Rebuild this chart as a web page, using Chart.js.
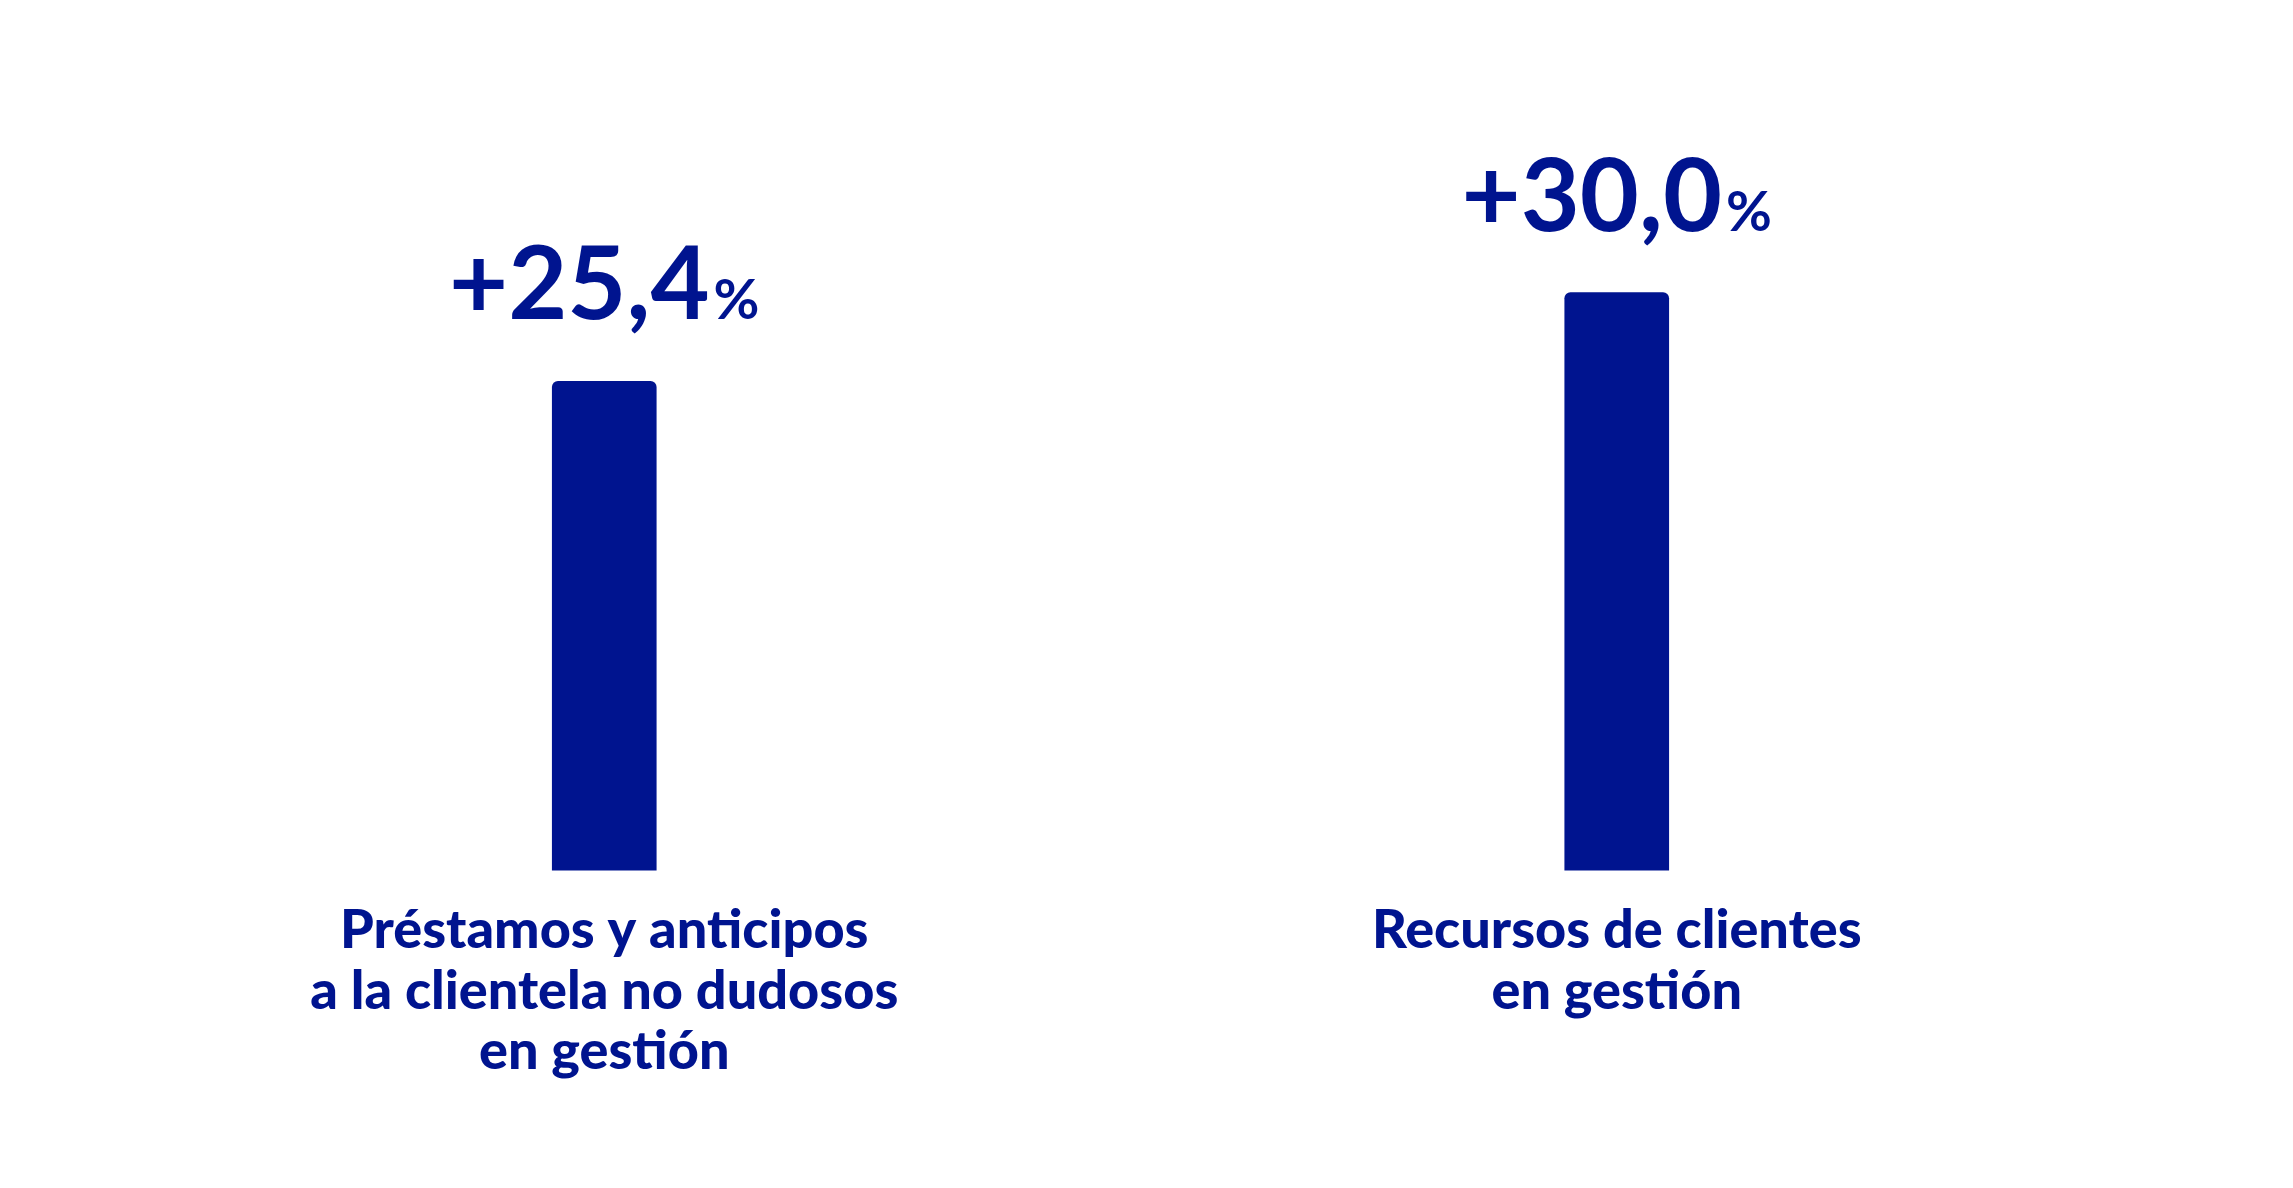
<!DOCTYPE html>
<html>
<head>
<meta charset="utf-8">
<script src="https://cdn.jsdelivr.net/npm/chart.js@4"></script>
<style>
	html, body { margin: 0; padding: 0; background: #fff; }
	#wrap { width: 2293px; height: 1188px; }
</style>
</head>
<body>
<div id="wrap"><canvas id="chart"></canvas></div>
<script>
const categories = [
	['Préstamos y anticipos', 'a la clientela no dudosos', 'en gestión'],
	['Recursos de clientes', 'en gestión'],
];
const growth = [25.4, 30.0];
const growthLabels = ['+25,4', '+30,0'];

const blue = '#00148f';

const valueLabels = {
	id: 'valueLabels',
	afterDatasetsDraw(chart) {
		const ctx = chart.ctx;
		const meta = chart.getDatasetMeta(0);
		meta.data.forEach((bar, i) => {
			const big = '700 102px Lato, "Open Sans", sans-serif';
			const small = '700 56px Lato, "Open Sans", sans-serif';
			ctx.save();
			ctx.fillStyle = blue;
			ctx.textBaseline = 'alphabetic';
			ctx.font = big;
			const w1 = ctx.measureText(growthLabels[i]).width;
			ctx.font = small;
			const w2 = ctx.measureText('%').width;
			const x0 = bar.x - (w1 + w2 + 4) / 2;
			const y = bar.y - 62;
			ctx.font = big;
			ctx.textAlign = 'left';
			ctx.fillText(growthLabels[i], x0, y);
			ctx.font = small;
			ctx.fillText('%', x0 + w1 + 4, y);
			ctx.restore();
		});
	},
};

new Chart(document.getElementById('chart'), {
	type: 'bar',
	data: {
		labels: categories,
		datasets: [{
			data: growth,
			backgroundColor: blue,
			barThickness: 104,
			borderRadius: { topLeft: 6, topRight: 6 },
			borderSkipped: 'bottom',
		}],
	},
	options: {
		responsive: true,
		maintainAspectRatio: false,
		animation: false,
		layout: { padding: { left: 98, right: 170, top: 100, bottom: 84 } },
		plugins: { legend: { display: false }, tooltip: { enabled: false } },
		scales: {
			y: { display: false, min: 0, max: 40 },
			x: {
				grid: { display: false },
				border: { display: false },
				ticks: {
					color: blue,
					padding: 22,
					font: { family: 'Lato, "Open Sans", sans-serif', size: 54, weight: 900, lineHeight: 1.12 },
				},
			},
		},
	},
	plugins: [valueLabels],
});
</script>
</body>
</html>
